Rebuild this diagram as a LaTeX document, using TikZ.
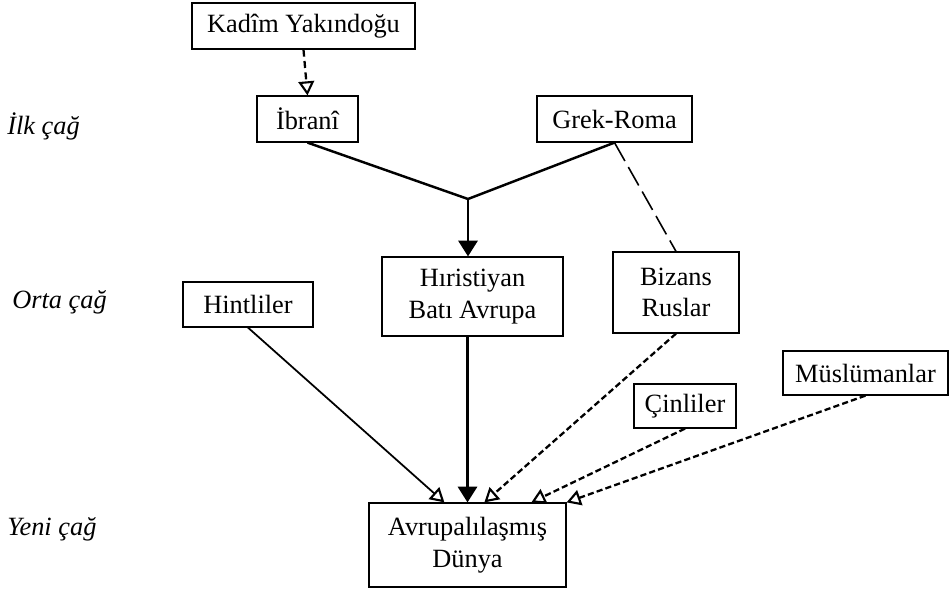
\documentclass[tikz,border=0pt]{standalone}
\usepackage{fontspec}
\setmainfont{Liberation Serif}
\usetikzlibrary{arrows.meta}

\tikzset{
  kutu/.style={draw,line width=0.7pt,fill=white,inner sep=0pt,align=center,font=\fontsize{15}{18}\selectfont},
  cag/.style={anchor=base west,inner sep=0pt,font=\fontsize{15}{18}\selectfont\itshape},
  dolu/.style={-{Triangle[length=9pt,width=11pt]},line width=1.4pt},
  tarali/.style={-{Triangle[open,length=8pt,width=9pt,line width=1.2pt]}},
  noktali/.style={tarali,line width=1.3pt,dash pattern=on 3.5pt off 1.8pt},
}

\begin{document}
\begin{tikzpicture}[x=0.02cm,y=-0.02cm]

\useasboundingbox (0,0) rectangle (950,591);

%% donemler
\node [cag] (ilk) at (7,135) {İlk çağ};
\node [cag] (orta) at (12,309) {Orta çağ};
\node [cag] (yeni) at (7,535) {Yeni çağ};

%% kutular
\node [kutu,minimum width=4.46cm,minimum height=0.92cm] (kadim) at (303.5,26) {Kadîm Yakındoğu};
\node [kutu,minimum width=2.02cm,minimum height=0.92cm] (ibrani) at (307.5,119) {İbranî};
\node [kutu,minimum width=3.10cm,minimum height=0.92cm] (grek) at (614.5,119) {Grek-Roma};
\node [kutu,minimum width=3.62cm,minimum height=1.58cm] (hiristiyan) at (472.5,296.5) {Hıristiyan\\Batı Avrupa};
\node [kutu,minimum width=2.52cm,minimum height=1.62cm] (bizans) at (676,292.5) {Bizans\\Ruslar};
\node [kutu,minimum width=2.60cm,minimum height=0.90cm] (hint) at (248,304.5) {Hintliler};
\node [kutu,minimum width=2.04cm,minimum height=0.88cm] (cin) at (685,406) {Çinliler};
\node [kutu,minimum width=3.30cm,minimum height=0.88cm] (musluman) at (865.5,373) {Müslümanlar};
\node [kutu,minimum width=3.94cm,minimum height=1.68cm] (dunya) at (467.5,545) {Avrupalılaşmış\\Dünya};

\coordinate (kavsak) at (468,199);

%% baglantilar
\draw [tarali,line width=1.3pt,dash pattern=on 4pt off 2.5pt] (kadim.south) -- (ibrani.north);
\draw [line width=1.4pt] (ibrani.south) -- (kavsak);
\draw [line width=1.4pt] (grek.south) -- (kavsak);
\draw [dolu] (kavsak) -- (kavsak |- hiristiyan.north);
\draw [line width=0.9pt,dash pattern=on 12pt off 4pt] (grek.south) -- (bizans.north);
\draw [dolu] (dunya.north |- hiristiyan.south) -- (dunya.north);
\draw [tarali,line width=1pt] (hint.south) -- ([xshift=1.52cm]dunya.north west);
\draw [noktali] (bizans.south) -- ([xshift=2.32cm]dunya.north west);
\draw [noktali] (cin.south) -- ([xshift=3.26cm]dunya.north west);
\draw [noktali] (musluman.south) -- (dunya.north east);

\end{tikzpicture}
\end{document}
